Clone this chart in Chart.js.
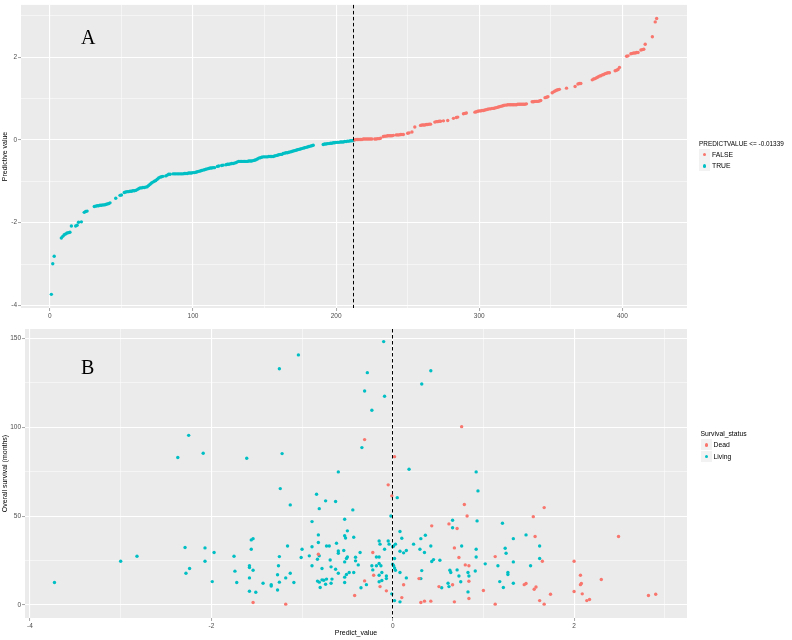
<!DOCTYPE html>
<html>
<head>
<meta charset="utf-8">
<script src="https://cdn.jsdelivr.net/npm/chart.js@4.4.1/dist/chart.umd.min.js"></script>
<style>
  body { margin: 0; background: #fff; width: 792px; height: 640px; overflow: hidden; position: relative; font-family: "Liberation Sans", Arial, sans-serif; }
  canvas { position: absolute; left: 0; }
  #chartA { top: 0; }
  #chartB { top: 322px; }
  .tag { position: absolute; font-family: "Liberation Serif", "Times New Roman", serif; font-size: 20px; line-height: 20px; color: #000; }
  .legend { position: absolute; font-size: 6.8px; color: #000; }
  .legend .ttl { height: 11.1px; line-height: 11.1px; font-size: 6.8px; white-space: nowrap; }
  .row { display: flex; align-items: center; height: 11.5px; }
  .key { width: 11px; height: 11px; background: #F2F2F2; position: relative; margin-right: 2px; }
  .key i { position: absolute; left: 4px; top: 4px; width: 3.2px; height: 3.2px; border-radius: 50%; }
</style>
</head>
<body>
<canvas id="chartA" width="792" height="322"></canvas>
<canvas id="chartB" width="792" height="318"></canvas>

<div class="tag" style="left:81px; top:27px;">A</div>
<div class="tag" style="left:81px; top:357px;">B</div>

<div class="legend" style="left:699px; top:137.5px;">
  <div class="ttl" style="font-size:6.4px;">PREDICTVALUE &lt;= -0.01339</div>
  <div class="row"><div class="key"><i style="background:#F8766D"></i></div>FALSE</div>
  <div class="row"><div class="key"><i style="background:#00BFC4"></i></div>TRUE</div>
</div>
<div class="legend" style="left:700.5px; top:428px;">
  <div class="ttl">Survival_status</div>
  <div class="row"><div class="key"><i style="background:#F8766D"></i></div>Dead</div>
  <div class="row"><div class="key"><i style="background:#00BFC4"></i></div>Living</div>
</div>

<script>
// panel A: sorted predictive values, one per patient index (null = no point seen)
const predictValues = [
  -3.73, -2.99, -2.81, null, null, null, null, -2.37, -2.33, -2.29,
  -2.27, -2.25, -2.24, -2.23, -2.08, null, null, -2.08, -2.06, -1.99,
  null, -1.98, null, -1.75, -1.73, -1.72, null, null, null, null,
  -1.61, -1.60, -1.59, -1.59, -1.58, -1.58, -1.57, -1.57, -1.56, -1.55,
  -1.54, -1.52, null, null, null, -1.41, null, null, -1.34, -1.33,
  null, -1.27, -1.26, -1.25, -1.25, -1.24, -1.24, -1.23, -1.23, -1.22,
  -1.20, -1.18, -1.16, -1.16, -1.15, -1.15, -1.14, -1.13, -1.10, -1.07,
  -1.04, -1.02, -1.00, -0.98, -0.95, -0.92, -0.90, -0.89, -0.88, null,
  -0.87, -0.85, -0.83, -0.83, null, -0.82, -0.82, -0.82, -0.82, -0.82,
  -0.82, -0.82, -0.82, -0.81, -0.81, -0.81, -0.80, -0.80, -0.80, -0.79,
  -0.79, -0.78, -0.77, -0.76, -0.75, -0.74, -0.73, -0.72, -0.71, -0.70,
  -0.69, -0.68, -0.68, -0.67, -0.67, null, -0.64, -0.63, null, -0.62,
  -0.61, null, -0.60, -0.59, -0.59, -0.58, -0.57, -0.57, -0.56, -0.55,
  -0.53, -0.52, -0.52, -0.52, -0.52, -0.52, -0.52, -0.52, -0.51, -0.51,
  -0.51, -0.50, -0.49, -0.48, -0.46, -0.44, -0.43, -0.42, -0.41, -0.41,
  -0.41, -0.41, -0.40, -0.40, -0.40, -0.40, -0.39, -0.38, -0.37, -0.36,
  -0.35, -0.35, -0.33, -0.32, -0.31, -0.31, -0.30, -0.29, -0.28, -0.27,
  -0.26, -0.25, -0.24, -0.23, -0.22, -0.21, -0.20, -0.19, -0.18, -0.17,
  -0.16, -0.15, -0.14, -0.13, null, null, null, null, null, null,
  -0.11, -0.10, -0.10, -0.09, -0.09, -0.08, -0.08, -0.07, -0.07, -0.06,
  -0.06, -0.06, -0.05, -0.05, -0.05, -0.04, -0.04, -0.03, -0.03, -0.02,
  -0.02, -0.014, 0.00, 0.01, 0.01, 0.01, 0.01, 0.01, 0.02, 0.02,
  0.02, 0.02, 0.02, 0.02, 0.02, null, 0.02, 0.02, 0.03, 0.03,
  0.04, null, 0.08, 0.09, 0.09, 0.10, 0.10, 0.10, 0.10, 0.11,
  null, 0.12, 0.12, 0.12, 0.13, 0.13, 0.13, null, null, 0.16,
  0.17, null, 0.19, null, 0.31, null, null, null, 0.35, 0.36,
  0.36, 0.36, 0.37, 0.37, 0.38, 0.38, null, null, 0.43, 0.44,
  0.44, 0.45, 0.45, null, 0.46, null, null, 0.47, null, null,
  null, 0.52, null, 0.54, 0.55, null, null, null, 0.63, 0.64,
  0.65, null, null, null, null, null, 0.67, 0.68, 0.69, 0.70,
  0.70, 0.71, 0.71, 0.72, 0.73, 0.74, 0.75, 0.75, 0.76, 0.76,
  0.77, 0.78, 0.79, 0.80, 0.81, 0.82, 0.83, 0.84, 0.84, 0.85,
  0.85, 0.85, 0.85, 0.85, 0.85, 0.85, 0.86, 0.86, 0.86, 0.86,
  0.86, 0.86, 0.87, null, null, null, 0.92, 0.92, 0.93, 0.93,
  0.93, 0.94, 0.95, null, null, 1.02, 1.03, 1.04, null, null,
  1.14, 1.16, 1.18, 1.20, 1.21, 1.22, null, null, null, null,
  1.25, null, null, null, null, null, 1.29, null, 1.35, 1.36,
  1.36, null, null, null, null, null, null, null, 1.45, 1.47,
  1.48, 1.50, 1.52, 1.54, 1.55, 1.57, 1.58, 1.60, 1.61, 1.62,
  1.62, null, null, null, 1.67, 1.68, 1.70, 1.75, null, null,
  null, null, 2.02, 2.03, null, 2.08, 2.09, 2.10, 2.10, 2.11,
  2.11, null, 2.17, 2.18, 2.19, 2.31, null, null, null, null,
  2.49, null, 2.85, 2.93
];
const cutoff = -0.01339;
const cutIndex = 212;

// panel B: predict value vs overall survival (months)
const livingPredict = [
  -3.73, -3.00, -2.82, -2.37, -2.25, -2.29, -2.28, -2.24, -2.09, -2.07,
  -2.07, -1.97, -1.99, -1.75, -1.74, -1.72, -1.61, -1.56, -1.54, -1.56,
  -1.58, -1.58, -1.54, -1.58, -1.58, -1.51, -1.43, -1.34, -1.34, -1.27,
  -1.27, -1.26, -1.25, -1.25, -1.24, -1.22, -1.25, -1.18, -1.16, -1.13,
  -1.13, -1.09, -1.04, -1.01, -1.00, -0.92, -0.89, -0.89, -0.89, -0.84,
  -0.82, -0.82, -0.81, -0.83, -0.81, -0.83, -0.81, -0.80, -0.78, -0.78,
  -0.74, -0.73, -0.70, -0.76, -0.73, -0.74, -0.69, -0.68, -0.67, -0.68,
  -0.63, -0.62, -0.60, -0.60, -0.63, -0.60, -0.60, -0.54, -0.53, -0.53,
  -0.52, -0.50, -0.53, -0.51, -0.53, -0.51, -0.53, -0.48, -0.50, -0.44,
  -0.43, -0.41, -0.43, -0.41, -0.38, -0.36, -0.35, -0.34, -0.31, -0.28,
  -0.23, -0.15, -0.14, -0.29, -0.23, -0.22, -0.18, -0.18, -0.15, -0.15,
  -0.13, -0.15, -0.12, -0.12, -0.15, -0.10, -0.09, -0.09, -0.07, -0.07,
  -0.05, -0.04, -0.02, -0.01, 0.00, 0.01, 0.03, 0.02, 0.02, 0.02,
  0.05, 0.42, 0.32, 0.18, 0.08, 0.10, 0.00, 0.08, 0.12, 0.15,
  0.23, 0.31, 0.36, 0.30, 0.35, 0.42, 0.43, 0.45, 0.52, 0.01,
  0.03, 0.08, 0.15, 0.08, 0.32, 0.31, 0.54, 0.61, 0.62, 0.63,
  0.64, 0.66, 0.66, 0.71, 0.73, 0.75, 0.76, 0.83, 0.84, 0.83,
  0.91, 0.92, 0.92, 0.93, 0.92, 0.94, 1.02, 1.16, 1.18, 1.22,
  1.21, 1.24, 1.25, 1.27, 1.27, 1.33, 1.33, 1.33, 1.47, 1.52,
  1.62, 1.62
];
const livingMonths = [
  12.6, 24.6, 27.4, 83.0, 95.5, 32.3, 17.8, 20.5, 85.4, 32.1,
  24.6, 29.5, 13.1, 27.4, 19.0, 12.6, 82.6, 36.6, 37.3, 31.3,
  22.0, 21.0, 19.5, 15.2, 7.7, 7.1, 12.2, 11.4, 10.6, 8.4,
  17.0, 22.0, 133.0, 27.2, 65.5, 85.2, 12.8, 15.2, 33.2, 56.3,
  17.8, 12.6, 140.8, 26.7, 31.3, 27.6, 32.7, 46.9, 22.0, 62.3,
  39.4, 35.1, 54.2, 25.7, 27.6, 13.4, 12.8, 9.8, 20.5, 14.1,
  58.6, 33.2, 33.2, 13.9, 14.5, 11.6, 25.3, 21.4, 14.5, 12.2,
  58.2, 34.7, 30.4, 29.1, 20.1, 17.8, 74.9, 30.6, 48.2, 38.9,
  37.7, 41.7, 24.2, 26.1, 15.6, 17.1, 12.6, 18.2, 27.0, 53.5,
  38.1, 26.8, 18.2, 24.8, 22.5, 29.5, 9.6, 88.6, 120.5, 130.8,
  109.6, 36.0, 34.2, 11.4, 22.0, 19.7, 22.0, 27.0, 27.0, 23.3,
  22.0, 16.7, 18.2, 13.7, 13.0, 148.3, 117.5, 31.3, 16.3, 14.8,
  36.0, 34.2, 50.1, 6.2, 22.9, 33.2, 34.2, 26.1, 20.8, 2.4,
  60.4, 131.9, 124.4, 76.4, 41.3, 37.5, 32.8, 30.2, 29.3, 30.6,
  34.2, 37.3, 39.2, 31.3, 29.5, 33.2, 24.4, 25.5, 25.1, 22.0,
  19.5, 18.2, 15.2, 1.7, 19.3, 14.8, 9.6, 12.2, 10.3, 19.5,
  18.2, 47.7, 43.4, 19.7, 16.3, 13.0, 33.2, 18.2, 16.3, 7.3,
  19.1, 31.3, 27.0, 47.3, 74.9, 64.2, 23.1, 22.0, 13.1, 9.8,
  46.0, 31.9, 29.1, 18.2, 17.1, 37.3, 24.2, 12.2, 39.4, 22.0,
  33.2, 26.1
];
const deadPredict = [
  -1.54, -1.18, -0.82, -0.42, -0.31, -0.31, -0.22, -0.21, -0.14, -0.07,
  -0.05, -0.01, 0.02, 0.76, 0.79, 0.82, 0.43, 0.62, 0.71, 0.68,
  0.73, 0.80, 0.84, 0.84, 0.84, 0.29, 0.12, 0.10, 0.31, 0.35,
  0.42, 0.51, 0.66, 0.68, 1.00, 1.13, 1.13, 1.45, 1.47, 1.55,
  1.67, 1.57, 1.65, 1.56, 1.58, 1.62, 1.67, 1.74, 2.00, 2.07,
  2.07, 2.08, 2.00, 2.09, 2.14, 2.17, 2.30, 2.49, 2.82, 2.90
];
const deadMonths = [
  1.3, 0.4, 28.5, 5.3, 13.5, 93.1, 29.5, 16.7, 10.3, 7.9,
  67.6, 61.4, 83.5, 100.4, 56.5, 50.1, 44.5, 45.6, 43.0, 32.1,
  26.7, 22.5, 22.0, 13.3, 3.6, 14.8, 11.3, 4.1, 1.3, 2.1,
  2.1, 10.3, 11.3, 1.7, 8.1, 27.2, 0.4, 11.4, 12.0, 49.7,
  54.8, 38.5, 24.6, 8.8, 10.1, 2.4, 0.4, 6.0, 24.6, 16.7,
  11.4, 12.0, 7.5, 6.2, 2.4, 3.0, 14.3, 38.5, 5.3, 6.0
];

// tick values (major + minor grid) for each axis
const aXTicks = [0, 50, 100, 150, 200, 250, 300, 350, 400];
const aXMajor = [0, 100, 200, 300, 400];
const aYTicks = [-4, -3, -2, -1, 0, 1, 2, 3];
const aYMajor = [-4, -2, 0, 2];
const bXTicks = [-4, -3, -2, -1, 0, 1, 2, 3];
const bXMajor = [-4, -2, 0, 2];
const bYTicks = [0, 25, 50, 75, 100, 125, 150];
const bYMajor = [0, 50, 100, 150];

const RED = '#F8766D';
const TEAL = '#00BFC4';
const FONT = '"Liberation Sans", Arial, sans-serif';

const panelBg = {
  id: 'panelBg',
  beforeDraw(chart) {
    const { ctx, chartArea: a } = chart;
    ctx.save();
    ctx.fillStyle = '#EBEBEB';
    ctx.fillRect(a.left, a.top, a.right - a.left, a.bottom - a.top);
    ctx.restore();
  }
};

const cutLine = {
  id: 'cutLine',
  afterDatasetsDraw(chart, args, opts) {
    const { ctx, chartArea: a } = chart;
    const x = Math.round(chart.scales.x.getPixelForValue(opts.value)) + 0.5;
    ctx.save();
    ctx.strokeStyle = '#000';
    ctx.lineWidth = 1;
    ctx.setLineDash([3.5, 2.5]);
    ctx.beginPath();
    ctx.moveTo(x, a.top);
    ctx.lineTo(x, a.bottom);
    ctx.stroke();
    ctx.restore();
  }
};

function axis(min, max, ticks, major, size, title) {
  return {
    type: 'linear',
    min: min,
    max: max,
    afterBuildTicks: s => { s.ticks = ticks.map(v => ({ value: v })); },
    afterFit: s => {
      if (s.isHorizontal()) s.height = size; else s.width = size;
    },
    ticks: {
      autoSkip: false,
      maxRotation: 0,
      padding: 1,
      color: '#4D4D4D',
      font: { family: FONT, size: 6.5 },
      callback: v => major.includes(v) ? String(v) : ''
    },
    grid: {
      color: '#FFFFFF',
      lineWidth: c => major.includes(c.tick.value) ? 1.1 : 0.5,
      tickColor: c => major.includes(c.tick.value) ? '#666666' : 'rgba(0,0,0,0)',
      tickWidth: 0.6,
      tickLength: 3
    },
    border: { display: false },
    title: title
  };
}

function points(label, data, color) {
  return {
    label: label,
    data: data,
    backgroundColor: color,
    pointBackgroundColor: color,
    pointRadius: 1.7,
    pointBorderWidth: 0,
    pointHoverRadius: 1.7
  };
}

// panel A data
const aPoints = predictValues
  .map((v, i) => ({ x: i + 1, y: v }))
  .filter(p => p.y !== null);
const aFalse = aPoints.filter(p => p.y > cutoff);
const aTrue = aPoints.filter(p => p.y <= cutoff);

new Chart(document.getElementById('chartA'), {
  type: 'scatter',
  data: { datasets: [points('FALSE', aFalse, RED), points('TRUE', aTrue, TEAL)] },
  options: {
    responsive: false,
    devicePixelRatio: 1,
    animation: false,
    layout: { padding: { top: 1, right: 105, left: 0, bottom: 0 } },
    scales: {
      x: axis(-20.2, 445.2, aXTicks, aXMajor, 14, { display: false }),
      y: axis(-4.06, 3.26, aYTicks, aYMajor, 21, {
        display: true, text: 'Predictive value', color: '#000',
        font: { family: FONT, size: 7 }, padding: { top: 1, bottom: 0 }
      })
    },
    plugins: {
      legend: { display: false },
      tooltip: { enabled: false },
      cutLine: { value: cutIndex }
    }
  },
  plugins: [panelBg, cutLine]
});

// panel B data
const bDead = deadPredict.map((v, i) => ({ x: v, y: deadMonths[i] }));
const bLiving = livingPredict.map((v, i) => ({ x: v, y: livingMonths[i] }));

new Chart(document.getElementById('chartB'), {
  type: 'scatter',
  data: { datasets: [points('Dead', bDead, RED), points('Living', bLiving, TEAL)] },
  options: {
    responsive: false,
    devicePixelRatio: 1,
    animation: false,
    layout: { padding: { top: 7, right: 105, left: 0, bottom: 0 } },
    scales: {
      x: axis(-4.055, 3.245, bXTicks, bXMajor, 22, {
        display: true, text: 'Predict_value', color: '#000',
        font: { family: FONT, size: 7 }, padding: { top: 0, bottom: 2.8 }
      }),
      y: axis(-7.4, 155.4, bYTicks, bYMajor, 25, {
        display: true, text: 'Overall survival (months)', color: '#000',
        font: { family: FONT, size: 7 }, padding: { top: 1, bottom: 0 }
      })
    },
    plugins: {
      legend: { display: false },
      tooltip: { enabled: false },
      cutLine: { value: cutoff }
    }
  },
  plugins: [panelBg, cutLine]
});
</script>
</body>
</html>
